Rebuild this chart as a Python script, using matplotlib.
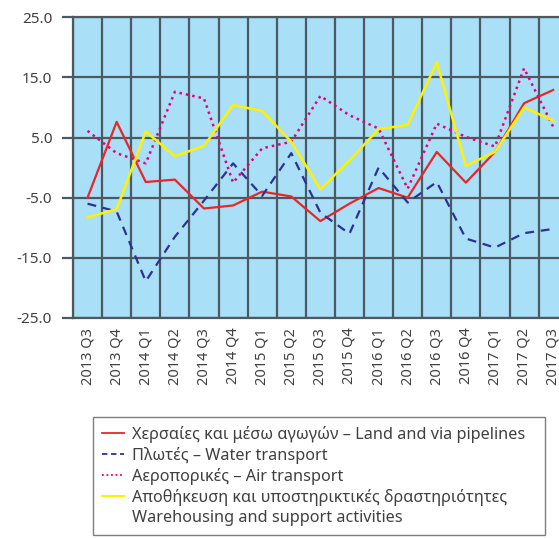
import matplotlib
matplotlib.use('Agg')
import matplotlib.pyplot as plt
from matplotlib.lines import Line2D

plt.rcParams['font.family'] = ['Noto Sans', 'DejaVu Sans']

# Quarters on the x axis
quarters = ['2013 Q3', '2013 Q4', '2014 Q1', '2014 Q2', '2014 Q3', '2014 Q4',
            '2015 Q1', '2015 Q2', '2015 Q3', '2015 Q4', '2016 Q1', '2016 Q2',
            '2016 Q3', '2016 Q4', '2017 Q1', '2017 Q2', '2017 Q3']

# Series values
land = [-5.0, 7.6, -2.4, -2.0, -6.8, -6.3, -4.0, -4.8, -8.9, -6.0, -3.4, -5.0,
        2.6, -2.5, 2.6, 10.7, 12.9]
water = [-6.0, -7.3, -18.9, -11.5, -5.5, 0.7, -4.7, 2.4, -7.5, -11.0, 0.0, -5.8,
         -2.4, -11.8, -13.3, -10.9, -10.2]
air = [6.1, 2.4, 0.7, 12.6, 11.5, -2.5, 3.2, 4.3, 11.9, 8.7, 6.5, -3.5,
       7.3, 5.1, 3.5, 16.5, 6.8]
warehousing = [-8.3, -6.9, 6.0, 1.9, 3.6, 10.4, 9.4, 4.3, -3.6, 1.2, 6.4, 7.1,
               17.5, 0.3, 2.6, 10.0, 7.8]

yticks = [-25, -15, -5, 5, 15, 25]

labels = ['Χερσαίες και μέσω αγωγών – Land and via pipelines',
          'Πλωτές – Water transport',
          'Αεροπορικές – Air transport',
          'Αποθήκευση και υποστηρικτικές δραστηριότητες',
          'Warehousing and support activities']

grid_col = '#4a5a60'
text_col = '#404040'

fig = plt.figure(figsize=(5.59, 5.38), dpi=100)
ax = fig.add_axes([0.1306, 0.409, 0.885, 0.559])
ax.set_facecolor('#aadff8')

x = range(len(quarters))
ax.plot(x, land, color='#e8262a', lw=1.6)
ax.plot(x, water, color='#2e3192', lw=1.6, ls=(0, (4, 3)))
ax.plot(x, air, color='#e6007e', lw=1.8, ls=(0, (1, 1.6)))
ax.plot(x, warehousing, color='#fff200', lw=1.8)

ax.set_xlim(-0.5, len(quarters) - 0.5)
ax.set_ylim(-25, 25)

# category boundaries as minor ticks for the vertical grid
ax.set_xticks([i - 0.5 for i in range(len(quarters) + 1)], minor=True)
ax.set_xticks(list(x))
ax.set_xticklabels(quarters, rotation=90)
ax.tick_params(axis='x', which='major', length=0, pad=7, labelsize=10.5, labelcolor=text_col)
ax.tick_params(axis='x', which='minor', length=0)
ax.grid(True, axis='x', which='minor', color=grid_col, lw=1.6)

ax.set_yticks(yticks)
ax.set_yticklabels([f'{v:.1f}' for v in yticks])
ax.tick_params(axis='y', length=8, width=1.6, color=grid_col, pad=7, labelsize=11,
               labelcolor=text_col)
ax.grid(True, axis='y', color=grid_col, lw=1.6)

for side in ['top', 'bottom', 'left']:
    ax.spines[side].set_color(grid_col)
    ax.spines[side].set_linewidth(1.6)
ax.spines['right'].set_visible(False)

handles = [Line2D([], [], color='#e8262a', lw=1.3),
           Line2D([], [], color='#2e3192', lw=1.3, ls=(0, (3, 2))),
           Line2D([], [], color='#e6007e', lw=1.3, ls=(0, (1, 1.5))),
           Line2D([], [], color='#fff200', lw=1.5),
           Line2D([], [], color='none')]
leg = fig.legend(handles, labels, loc='upper left',
                 bbox_to_anchor=(0.166, 0.225, 0.809, 0.0), mode='expand',
                 borderaxespad=0, fontsize=11.7, frameon=True, fancybox=False,
                 framealpha=1, edgecolor='#7f7f7f', handlelength=1.4,
                 handletextpad=0.45, labelspacing=0.25, borderpad=0.55)
leg.get_frame().set_linewidth(1.0)
for t in leg.get_texts():
    t.set_color(text_col)

fig.savefig('out.png', dpi=100)
